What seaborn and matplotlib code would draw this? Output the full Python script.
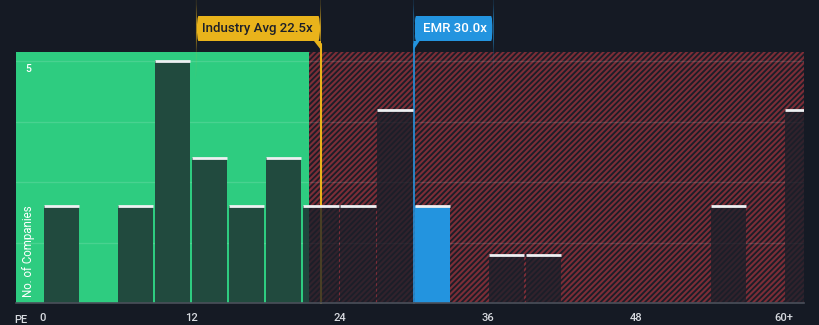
import matplotlib
matplotlib.use("Agg")
import matplotlib.pyplot as plt
import matplotlib.transforms as mtransforms
from matplotlib.patches import FancyBboxPatch, Polygon
import numpy as np
import pandas as pd
import seaborn as sns

# PE distribution of peer companies (bin start, company count)
bin_starts = [0, 6, 9, 12, 15, 18, 21, 24, 27, 30, 36, 39, 54, 60]
counts = [2, 2, 5, 3, 2, 3, 2, 2, 4, 2, 1, 1, 2, 4]
bin_width = 3
tick_values = [0, 12, 24, 36, 48, 60]
tick_labels = ["0", "12", "24", "36", "48", "60+"]

industry_avg = 22.5
company_pe = 30.0
company_name = "EMR"
fair_limit = 21.5

BG = "#151a24"
GREEN = "#2ecc80"
GREEN_BAR = "#214a3e"
RED_HATCH = "#7c2d37"
DARK_BAR = (0.11, 0.12, 0.16, 0.78)
BLUE = "#2394df"
YELLOW = "#e9b31b"
TEXT = "#d8dbe0"

sns.set_theme(style="dark")
plt.rcParams["font.family"] = ["Roboto", "DejaVu Sans"]
plt.rcParams["hatch.linewidth"] = 1.5

fig = plt.figure(figsize=(8.2, 3.25), dpi=100, facecolor=BG)
ax = fig.add_axes([16 / 820, 1 - 303 / 325, (804 - 16) / 820, (303 - 52) / 325])
ax.set_facecolor(BG)

xmin, xmax = -2.18, 61.6
ymax = 5.19
ax.set_xlim(xmin, xmax)
ax.set_ylim(0, ymax)

# background zones: below-average (green) and above (hatched)
ax.axvspan(xmin, fair_limit, color=GREEN, lw=0, zorder=0)
ax.axvspan(fair_limit, xmax, facecolor="#1b1e28", edgecolor=RED_HATCH,
           hatch="//////", lw=0, zorder=0)

# horizontal grid
for gy in [1.25, 2.5, 3.75, 5]:
    ax.axhline(gy, color="white", alpha=0.13, lw=1, zorder=0.5)

# marker lines, running up into the callouts
line_top = (303 - 44) / 251
ax.axvline(industry_avg, ymin=0, ymax=line_top, color=YELLOW, lw=1.5, zorder=1, clip_on=False)
ax.axvline(company_pe, ymin=0, ymax=line_top, color=BLUE, lw=1.2, zorder=1, clip_on=False)

df = pd.DataFrame({
    "center": np.array(bin_starts) + bin_width / 2,
    "count": counts,
})
sns.barplot(data=df, x="center", y="count", native_scale=True, width=0.95,
            color=GREEN_BAR, saturation=1, ax=ax, zorder=2)

for patch, start in zip(ax.patches[-len(bin_starts):], bin_starts):
    patch.set_linewidth(0)
    if start <= company_pe < start + bin_width:
        patch.set_facecolor(BLUE)
    elif start + bin_width / 2 > fair_limit:
        patch.set_facecolor(DARK_BAR)
    else:
        patch.set_facecolor(GREEN_BAR)

# white caps on top of each bar
lefts = np.array(bin_starts) + bin_width * 0.025
rights = np.array(bin_starts) + bin_width * 0.975
ax.hlines(counts, lefts, rights, color="#eef0f2", lw=2, zorder=3)

# axes styling
for side in ["top", "right", "left"]:
    ax.spines[side].set_visible(False)
ax.spines["bottom"].set_color("#4a4f5a")
ax.spines["bottom"].set_linewidth(1.2)
ax.spines["bottom"].set_zorder(4)
ax.set_xticks(np.arange(0, 61, 3))
ax.set_xticklabels([tick_labels[tick_values.index(t)] if t in tick_values else ""
                    for t in range(0, 61, 3)])
ax.tick_params(axis="x", colors="#6a6f7a", length=4, width=1, pad=3,
               labelcolor=TEXT, labelsize=8)
for lab in ax.get_xticklabels():
    lab.set_fontweight("medium")
ax.set_yticks([])
ax.set_xlabel("")
ax.set_ylabel("")
ax.grid(False)

fig.text(14 / 820, 1 - 320 / 325, "PE", color=TEXT, fontsize=8,
         fontweight="medium", va="center", ha="left")
ax.text(-1.2, 5 - 0.16, "5", color="white", fontsize=7.5, va="center", ha="center",
        fontweight="medium")
ax.text(-1.2, 1.07, "No. of Companies", color="white", fontsize=8.3, rotation=90,
        va="center", ha="center")

# value callouts above the plot
blend = mtransforms.blended_transform_factory(ax.transData, fig.transFigure)
px = 1 / 12.36  # data units per pixel on x
box_y0, box_y1 = 1 - 41 / 325, 1 - 16 / 325
tip_y = 1 - 50 / 325

ya = FancyBboxPatch((industry_avg - 125 * px, box_y0), 125 * px, box_y1 - box_y0,
                    boxstyle="round,pad=0,rounding_size=0.2", transform=blend,
                    facecolor=YELLOW, edgecolor="none", clip_on=False, zorder=5)
fig.add_artist(ya)
fig.add_artist(Polygon([(industry_avg - 7 * px, box_y0), (industry_avg, box_y0),
                        (industry_avg, tip_y)], closed=True, transform=blend,
                       facecolor=YELLOW, edgecolor="none", clip_on=False, zorder=5))
fig.text(industry_avg - 119 * px, (box_y0 + box_y1) / 2, f"Industry Avg {industry_avg:.1f}x",
         transform=blend, color="#1c1f29", fontsize=9.5, fontweight="medium",
         va="center", ha="left", zorder=6)

eb = FancyBboxPatch((company_pe, box_y0), 80 * px, box_y1 - box_y0,
                    boxstyle="round,pad=0,rounding_size=0.2", transform=blend,
                    facecolor=BLUE, edgecolor="none", clip_on=False, zorder=5)
fig.add_artist(eb)
fig.add_artist(Polygon([(company_pe, box_y0), (company_pe + 6 * px, box_y0),
                        (company_pe, tip_y)], closed=True, transform=blend,
                       facecolor=BLUE, edgecolor="none", clip_on=False, zorder=5))
fig.text(company_pe + 9 * px, (box_y0 + box_y1) / 2, f"{company_name} {company_pe:.1f}x",
         transform=blend, color="white", fontsize=9.5, fontweight="medium",
         va="center", ha="left", zorder=6)

fig.savefig("out.png", dpi=100, facecolor=BG)
